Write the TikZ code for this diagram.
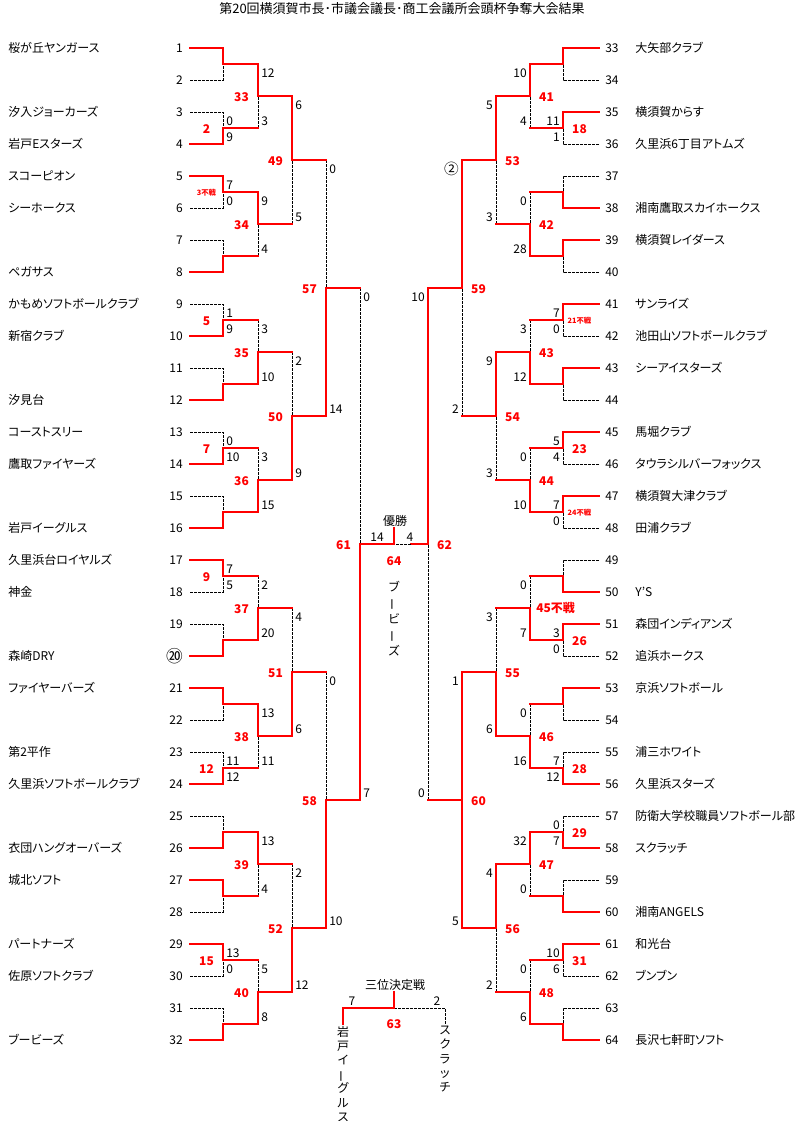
\documentclass[tikz,border=0pt]{standalone}
\usepackage{fontspec}
\setmainfont{Noto Sans CJK JP}[RawFeature=+palt]
\usepackage{graphicx}

\newcommand{\wofont}{\fontsize{5.5}{6}\selectfont}
\newcommand{\tatebar}{\rotatebox[origin=c]{90}{ー}}
\newcommand{\brkround}[7]{%
  \foreach \k/\w/\st/\sb/\no in {#7}{
    \pgfmathsetmacro\yt{32+#5/2+2*#5*(\k-1)}
    \pgfmathsetmacro\yb{\yt+#5}
    \pgfmathsetmacro\yj{\yt+#5/2}
    \coordinate (#1#3T\k) at (#2,\yt);
    \coordinate (#1#3B\k) at (#2,\yb);
    \coordinate (#1#3J\k) at (#3,\yj);
    \if\w t\def\wn{T}\def\ls{B}\else\def\wn{B}\def\ls{T}\fi
    \draw[lose] (#1#3\ls\k) -| (#1#3J\k);
    \draw[win] (#1#3\wn\k) -| (#1#3J\k) -- (#4,\yj);
    \node[sc#1] (#1#3s\k) at ({#3+3*(#6)},\yt+9) {\st};
    \node[sc#1] (#1#3e\k) at ({#3+3*(#6)},\yb-7) {\sb};
    \node[mno] (#1#3n\k) at ({#3-16.5*(#6)},\yj+1) {\no};
  }%
}

\tikzset{
  win/.style={draw=red, line width=1.5pt, line cap=rect},
  lose/.style={draw=black, line width=0.75pt, dash pattern=on 2pt off 1pt},
  team/.style={inner sep=0pt, anchor=west},
  seedL/.style={inner sep=0pt, anchor=east},
  seedR/.style={inner sep=0pt, anchor=west},
  scL/.style={inner sep=0pt, anchor=west},
  scR/.style={inner sep=0pt, anchor=east},
  mno/.style={inner sep=0pt, text=red, font=\fontsize{9}{11}\selectfont\bfseries},
  vtext/.style={inner sep=0pt, align=center, anchor=north, font=\fontsize{9}{10.6}\selectfont},
}

\begin{document}
\begin{tikzpicture}[x=0.75pt, y=-0.75pt, font=\fontsize{9}{11}\selectfont]
\useasboundingbox (0,0) rectangle (806,1121);
\node[font=\fontsize{9.75}{11}\selectfont] (title) at (402,9) {第20回横須賀市長･市議会議長･商工会議所会頭杯争奪大会結果};

% left half
\foreach \n/\t in {1/桜が丘ヤンガース, 2/, 3/汐入ジョーカーズ, 4/岩戸Eスターズ, 5/スコーピオン, 6/シーホークス, 7/, 8/ペガサス, 9/かもめソフトボールクラブ, 10/新宿クラブ, 11/, 12/汐見台, 13/コーストスリー, 14/鷹取ファイヤーズ, 15/, 16/岩戸イーグルス, 17/久里浜台ロイヤルズ, 18/神金, 19/, 20/森崎DRY, 21/ファイヤーバーズ, 22/, 23/第2平作, 24/久里浜ソフトボールクラブ, 25/, 26/衣団ハングオーバーズ, 27/城北ソフト, 28/, 29/パートナーズ, 30/佐原ソフトクラブ, 31/, 32/ブービーズ}{
  \node[team] (tm\n) at (8,{48+32*(\n-1)}) {\t};
  \node[seedL] (sd\n) at (183,{48+32*(\n-1)}) {\ifnum\n=20 {\fontsize{12.5}{12}\selectfont ⑳}\else\n\fi};
}
\brkround{L}{360}{360}{394}{512}{1}{1/b/0/7/61}
\brkround{L}{326}{326}{360}{256}{1}{1/b/0/14/57, 2/b/0/10/58}
\brkround{L}{292}{292}{326}{128}{1}{1/t/6/5/49, 2/b/2/9/50, 3/b/4/6/51, 4/b/2/12/52}
\brkround{L}{258}{258}{292}{64}{1}{1/t/12/3/33, 2/t/9/4/34, 3/b/3/10/35, 4/b/3/15/36, 5/b/2/20/37, 6/t/13/11/38, 7/t/13/4/39, 8/b/5/8/40}
\brkround{L}{190}{223}{258}{32}{1}{1/t///, 2/b/0/9/2, 3/t/7/0/{\wofont 3不戦}, 4/b///, 5/b/1/9/5, 6/b///, 7/b/0/10/7, 8/b///, 9/t/7/5/9, 10/b///, 11/t///, 12/b/11/12/12, 13/b///, 14/t///, 15/t/13/0/15, 16/b///}

% right half
\foreach \n/\t in {33/大矢部クラブ, 34/, 35/横須賀からす, 36/久里浜6丁目アトムズ, 37/, 38/湘南鷹取スカイホークス, 39/横須賀レイダース, 40/, 41/サンライズ, 42/池田山ソフトボールクラブ, 43/シーアイスターズ, 44/, 45/馬堀クラブ, 46/タウラシルバーフォックス, 47/横須賀大津クラブ, 48/田浦クラブ, 49/, 50/Y’S, 51/森団インディアンズ, 52/追浜ホークス, 53/京浜ソフトボール, 54/, 55/浦三ホワイト, 56/久里浜スターズ, 57/防衛大学校職員ソフトボール部, 58/スクラッチ, 59/, 60/湘南ANGELS, 61/和光台, 62/ブンブン, 63/, 64/長沢七軒町ソフト}{
  \node[team] (tm\n) at (635,{48+32*(\n-33)}) {\t};
  \node[seedR] (sd\n) at (605,{48+32*(\n-33)}) {\n};
}
\brkround{R}{428}{428}{411}{512}{-1}{1/t/10/0/62}
\brkround{R}{462}{462}{428}{256}{-1}{1/t/{\fontsize{11}{11}\selectfont ②}/2/59, 2/b/1/5/60}
\draw[win] (R462T2) -- (R462J2);
\brkround{R}{496}{496}{462}{128}{-1}{1/t/5/3/53, 2/t/9/3/54, 3/b/3/6/55, 4/t/4/2/56}
\brkround{R}{530}{530}{496}{64}{-1}{1/t/10/4/41, 2/b/0/28/42, 3/b/3/12/43, 4/b/0/10/44, 5/b/0/7/, 6/b/0/16/46, 7/t/32/0/47, 8/b/0/6/48}
\node[mno, anchor=west] (wo45) at (536,608) {45不戦};
\brkround{R}{599}{563}{530}{32}{-1}{1/t///, 2/t/11/1/18, 3/b///, 4/t///, 5/t/7/0/{\wofont 21不戦}, 6/t///, 7/t/5/4/23, 8/t/7/0/{\wofont 24不戦}, 9/b///, 10/t/3/0/26, 11/t///, 12/b/7/12/28, 13/b/0/7/29, 14/b///, 15/t/10/6/31, 16/b///}

% final
\coordinate (fin) at (394,544);
\coordinate (finup) at (394,528);
\coordinate (fr) at (411,544);
\draw[lose] (fr) -- (fin);
\draw[win] (fin) -- (finup);
\node (champ) at (395,521) {優勝};
\node (fsl) at (377,537) {14};
\node (fsr) at (410,537) {4};
\node[mno] (fno) at (394,561) {64};
\node[vtext, font=\fontsize{9}{12}\selectfont] (champname) at (394,581) {ブ\\\tatebar\\ビ\\\tatebar\\ズ};

% third place
\coordinate (tl) at (343,1024);
\coordinate (tm) at (394,1008);
\coordinate (tr) at (445,1024);
\coordinate (tup) at (394,992);
\draw[lose] (tm) -| (tr);
\draw[win] (tl) |- (tm) -- (tup);
\node (third) at (395,985) {三位決定戦};
\node (tsl) at (352,1001) {7};
\node (tsr) at (437,1001) {2};
\node[mno] (tno) at (394,1024) {63};
\node[vtext] (tln) at (343,1026) {岩\\戸\\イ\\\tatebar\\グ\\ル\\ス};
\node[vtext] (trn) at (445,1026) {ス\\ク\\ラ\\ッ\\チ};
\end{tikzpicture}
\end{document}
